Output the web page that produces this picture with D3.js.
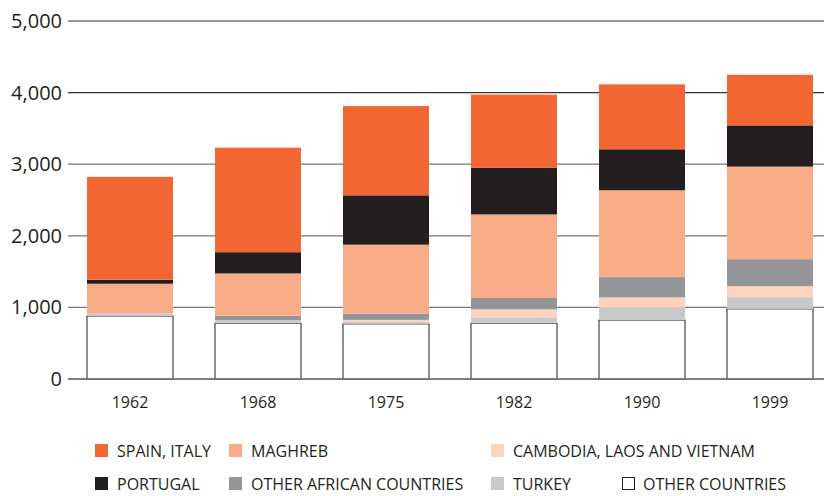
<!DOCTYPE html>
<html>
<head>
<meta charset="utf-8">
<script src="https://cdn.jsdelivr.net/npm/d3@7"></script>
<style>
  body { margin: 0; background: #fff; }
  text { font-family: "Open Sans", "Noto Sans", sans-serif; fill: #231f20; }
</style>
</head>
<body>
<svg id="chart" width="824" height="496"></svg>
<script>
// years on the x axis
var years = ["1962", "1968", "1975", "1982", "1990", "1999"];

// series, bottom of the stack first
var otherCountries = [879, 777, 770, 777, 823, 980];
var turkey         = [38, 46, 32, 84, 172, 163];
var cambodia       = [0, 0, 24, 112, 145, 153];
var otherAfrican   = [0, 60, 88, 158, 283, 377];
var maghreb        = [413, 591, 962, 1167, 1213, 1293];
var portugal       = [56, 297, 689, 650, 572, 576];
var spainItaly     = [1437, 1460, 1247, 1024, 907, 707];

var yTicks = [0, 1000, 2000, 3000, 4000, 5000];

var seriesKeys = ["other", "turkey", "cambodia", "otherAfrican", "maghreb", "portugal", "spain"];
var seriesValues = [otherCountries, turkey, cambodia, otherAfrican, maghreb, portugal, spainItaly];
var colors = {
  spain: "#f26633", portugal: "#231f20", maghreb: "#f8ad88",
  otherAfrican: "#939598", cambodia: "#fdd3bb", turkey: "#c8c9cb", other: "#ffffff"
};

// legend rows as in the picture
var legendItems = [
  { key: "spain", label: "SPAIN, ITALY", x: 95, row: 0 },
  { key: "maghreb", label: "MAGHREB", x: 229, row: 0 },
  { key: "cambodia", label: "CAMBODIA, LAOS AND VIETNAM", x: 491, row: 0 },
  { key: "portugal", label: "PORTUGAL", x: 95, row: 1 },
  { key: "otherAfrican", label: "OTHER AFRICAN COUNTRIES", x: 229, row: 1 },
  { key: "turkey", label: "TURKEY", x: 491, row: 1 },
  { key: "other", label: "OTHER COUNTRIES", x: 622, row: 1 }
];

// build table for d3.stack
var table = years.map(function(yr, i) {
  var row = { year: yr };
  seriesKeys.forEach(function(k, j) { row[k] = seriesValues[j][i]; });
  return row;
});

var svg = d3.select("#chart");
// note: "top" clashes with window.top, so plot edges get their own names
var plotLeft = 68, plotRight = 824, plotTop = 21, plotBottom = 379;

// band range runs a bit past the svg so the bars land where the original has them
var x = d3.scaleBand().domain(years).range([66, 834]).paddingInner(0.328).paddingOuter(0.164);
var y = d3.scaleLinear().domain([0, 5000]).range([plotBottom, plotTop]);

// gridlines + y labels
var grid = svg.append("g");
grid.selectAll("line").data(yTicks).enter().append("line")
  .attr("x1", plotLeft).attr("x2", plotRight)
  .attr("y1", function(d) { return y(d); })
  .attr("y2", function(d) { return y(d); })
  .attr("stroke", function(d) { return d === 4000 ? "#333" : "#777"; })
  .attr("stroke-width", 1.3);

var yAxis = d3.axisLeft(y).tickValues(yTicks).tickSize(0).tickPadding(6).tickFormat(d3.format(","));
svg.append("g").attr("transform", "translate(" + plotLeft + ",0)").call(yAxis)
  .call(function(g) { g.select(".domain").remove(); })
  .selectAll("text").attr("font-size", 20).attr("fill", "#3a3a3a")
  .attr("font-family", "'Open Sans', sans-serif");

// stacked bars
var stack = d3.stack().keys(seriesKeys);
var layers = stack(table);

svg.append("g").selectAll("g").data(layers).enter().append("g")
  .attr("fill", function(d) { return colors[d.key]; })
  .attr("stroke", function(d) { return d.key === "other" ? "#444" : "none"; })
  .attr("stroke-width", 1.2)
  .selectAll("rect").data(function(d) { return d; }).enter().append("rect")
  .attr("x", function(d) { return x(d.data.year); })
  .attr("width", x.bandwidth())
  .attr("y", function(d) { return y(d[1]); })
  .attr("height", function(d) { return y(d[0]) - y(d[1]); });

// baseline redrawn on top
svg.append("line").attr("x1", plotLeft).attr("x2", plotRight)
  .attr("y1", y(0)).attr("y2", y(0)).attr("stroke", "#777").attr("stroke-width", 1.3);

// x labels
var xAxis = d3.axisBottom(x).tickSize(0).tickPadding(18);
svg.append("g").attr("transform", "translate(0," + plotBottom + ")").call(xAxis)
  .call(function(g) { g.select(".domain").remove(); })
  .selectAll("text").attr("font-size", 16).attr("fill", "#3a3a3a")
  .attr("font-family", "'Open Sans', sans-serif");

// legend
var legend = svg.append("g").selectAll("g").data(legendItems).enter().append("g")
  .attr("transform", function(d) { return "translate(" + d.x + "," + (451 + d.row * 33) + ")"; });

legend.append("rect")
  .attr("x", function(d) { return d.key === "other" ? 0.5 : 0; })
  .attr("y", function(d) { return d.key === "other" ? -6.5 : -7; })
  .attr("width", function(d) { return d.key === "other" ? 12 : 13; })
  .attr("height", function(d) { return d.key === "other" ? 12 : 13; })
  .attr("fill", function(d) { return colors[d.key]; })
  .attr("stroke", function(d) { return d.key === "other" ? "#231f20" : "none"; });

legend.append("text")
  .attr("x", function(d) { return d.key === "other" ? 21 : 22; })
  .attr("dy", "0.35em")
  .attr("font-size", 16)
  .text(function(d) { return d.label; });
</script>
</body>
</html>
